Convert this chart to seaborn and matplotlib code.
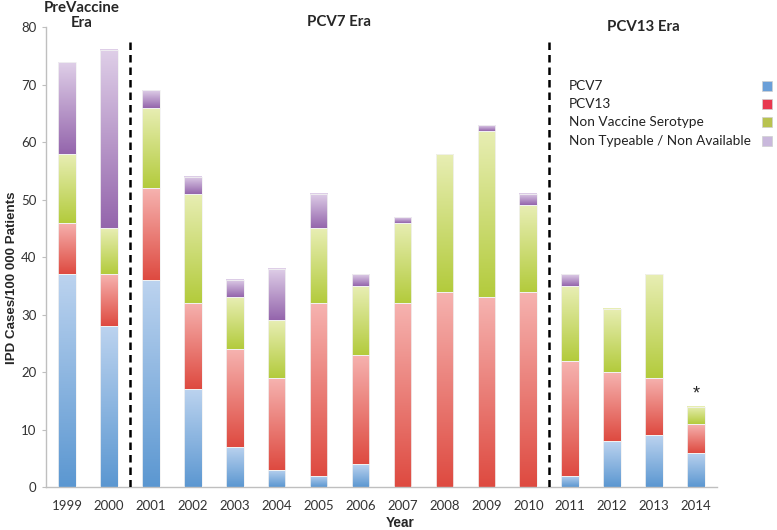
import numpy as np
import pandas as pd
import matplotlib
matplotlib.use("Agg")
import matplotlib.pyplot as plt
import seaborn as sns
from matplotlib.colors import LinearSegmentedColormap
from matplotlib.patches import Rectangle

years = ["1999", "2000", "2001", "2002", "2003", "2004", "2005", "2006",
         "2007", "2008", "2009", "2010", "2011", "2012", "2013", "2014"]
pcv7 = [37, 28, 36, 17, 7, 3, 2, 4, 0, 0, 0, 0, 2, 8, 9, 6]
pcv13 = [9, 9, 16, 15, 17, 16, 30, 19, 32, 34, 33, 34, 20, 12, 10, 5]
nvt = [12, 8, 14, 19, 9, 10, 13, 12, 14, 24, 29, 15, 13, 11, 18, 3]
ntna = [16, 31, 3, 3, 3, 9, 6, 2, 1, 0, 1, 2, 2, 0, 0, 0]

series_names = ["PCV7", "PCV13", "Non Vaccine Serotype", "Non Typeable / Non Available"]
era_labels = ["PreVaccine\nEra", "PCV7 Era", "PCV13 Era"]

# gradient colours per series: (dark bottom, light top), legend swatch
grad = {
    "PCV7": ("#5b97d1", "#bcd3ef"),
    "PCV13": ("#de4a40", "#f6b3b0"),
    "Non Vaccine Serotype": ("#b3cb3c", "#e8eeb4"),
    "Non Typeable / Non Available": ("#9465ac", "#dfcfe8"),
}
swatch = {"PCV7": "#6a9fd8", "PCV13": "#e8384f",
          "Non Vaccine Serotype": "#b8c24f", "Non Typeable / Non Available": "#c9b8dc"}

vals = np.array([pcv7, pcv13, nvt, ntna], dtype=float)
cum = np.cumsum(vals, axis=0)

sns.set_style("white")
fig = plt.figure(figsize=(7.77, 5.30), dpi=100)
ax = fig.add_axes([0.0592, 0.0811, 0.8636, 0.8679])

# draw cumulative bars, tallest layer first
layer_patches = {}
for k in range(3, -1, -1):
    df = pd.DataFrame({"year": years, "top": cum[k]})
    n_before = len(ax.patches)
    sns.barplot(data=df, x="year", y="top", color=swatch[series_names[k]],
                width=0.42, ax=ax)
    layer_patches[k] = ax.patches[n_before:]

grad_arr = np.linspace(0, 1, 256).reshape(-1, 1)
for k in range(4):
    cmap = LinearSegmentedColormap.from_list("g%d" % k, list(grad[series_names[k]]))
    for i, p in enumerate(layer_patches[k]):
        p.set_facecolor("none")
        p.set_edgecolor("none")
        top = cum[k][i]
        bottom = cum[k - 1][i] if k > 0 else 0
        if top - bottom <= 0:
            continue
        x0 = p.get_x()
        w = p.get_width()
        ax.imshow(grad_arr, cmap=cmap, origin="lower", aspect="auto",
                  extent=[x0, x0 + w, bottom, top], zorder=2, interpolation="bilinear")
        ax.add_patch(Rectangle((x0, bottom), w, top - bottom, fill=False,
                               edgecolor="#f2f2f2", lw=0.6, zorder=3))

ax.set_xlim(-0.5, 15.5)
ax.set_ylim(0, 80)

# era separators
for xs in [1.5, 11.5]:
    ax.plot([xs, xs], [0, 77.5], color="black", ls=(0, (3, 2)), lw=1.8, zorder=4)

bold = dict(family="Lato", fontweight="bold", fontsize=10.8)
ax.text(0.36, 82.0, era_labels[0], ha="center", va="center", clip_on=False,
        linespacing=1.15, **bold)
ax.text(6.48, 80.9, era_labels[1], ha="center", va="center", clip_on=False, **bold)
ax.text(13.75, 80.0, era_labels[2], ha="center", va="center", clip_on=False, **bold)
ax.text(15, 16.2, "*", ha="center", va="center", fontsize=13, family="Liberation Sans")

# axes styling
for s in ["top", "right"]:
    ax.spines[s].set_visible(False)
for s in ["left", "bottom"]:
    ax.spines[s].set_color("#bfbfbf")
    ax.spines[s].set_linewidth(1.0)
ax.set_yticks(range(0, 81, 10))
ax.set_xticks(range(16))
ax.set_xticklabels(years)
ax.set_xticks(np.arange(-0.5, 16, 1), minor=True)
ax.tick_params(axis="x", which="major", length=0, pad=9)
ax.tick_params(axis="x", which="minor", length=4, color="#bfbfbf", direction="out")
ax.tick_params(axis="y", length=3, color="#bfbfbf", direction="out", pad=4, left=True)
for lab in ax.get_xticklabels() + ax.get_yticklabels():
    lab.set_family("Lato")
    lab.set_fontsize(9.5)
    lab.set_color("#333333")

ax.set_xlabel("Year", fontsize=9.8, fontweight="bold", family="Liberation Sans")
ax.xaxis.set_label_coords(0.527, -0.063)
ax.set_ylabel("IPD Cases/100 000 Patients", fontsize=9.6, fontweight="bold",
              family="Liberation Sans")
ax.yaxis.set_label_coords(-0.041, 0.456)

# legend: left-aligned text, swatches at the right
row_y = [86, 104, 122, 141]
for name, yy in zip(series_names, row_y):
    fig.text(569 / 777, 1 - yy / 530, name, ha="left", va="center",
             fontsize=9.8, family="Lato", color="#222222")
    fig.patches.append(Rectangle((762 / 777, 1 - (yy + 5) / 530), 10 / 777, 10 / 530,
                                 transform=fig.transFigure, facecolor=swatch[name],
                                 edgecolor="#d0d0d0", lw=0.5))

fig.savefig("out.png", dpi=100)
